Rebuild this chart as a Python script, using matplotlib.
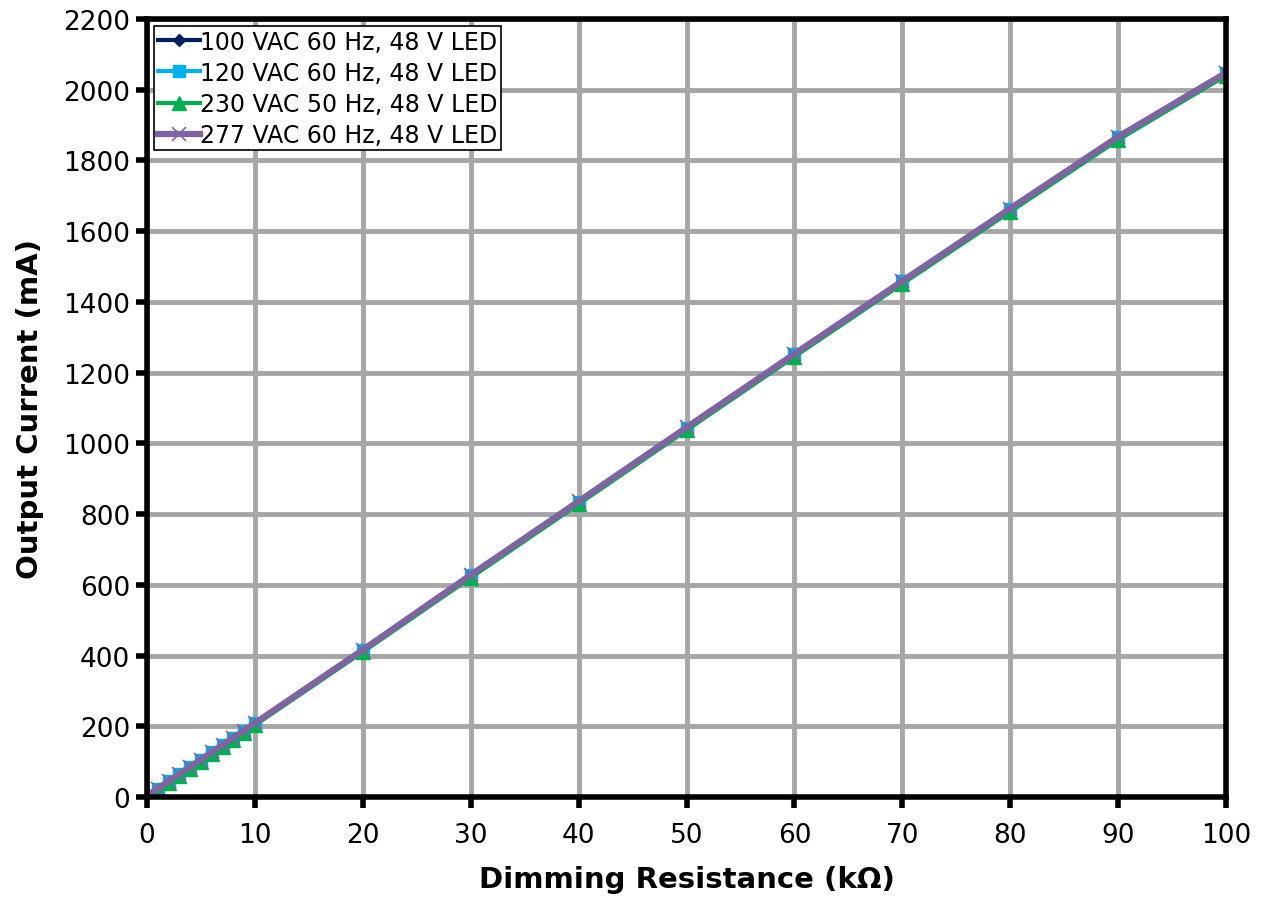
import matplotlib
matplotlib.use("Agg")
import matplotlib.pyplot as plt

# dimming resistance (kOhm) vs output current (mA)
r_kohm = [0, 1, 2, 3, 4, 5, 6, 7, 8, 9, 10, 20, 30, 40, 50, 60, 70, 80, 90, 100]
i_100vac = [2, 22, 43, 63, 84, 104, 125, 145, 166, 186, 207, 414, 626, 834, 1043, 1251, 1457, 1662, 1865, 2046]
i_120vac = [3, 23, 44, 64, 85, 105, 126, 146, 167, 187, 208, 415, 627, 835, 1044, 1252, 1458, 1663, 1866, 2047]
i_230vac = [0, 19, 40, 60, 80, 100, 121, 141, 162, 182, 203, 410, 620, 828, 1037, 1245, 1451, 1655, 1858, 2040]
i_277vac = [4, 24, 45, 65, 86, 106, 127, 147, 168, 188, 209, 416, 628, 836, 1045, 1253, 1459, 1664, 1867, 2048]

labels = ["100 VAC 60 Hz, 48 V LED", "120 VAC 60 Hz, 48 V LED",
          "230 VAC 50 Hz, 48 V LED", "277 VAC 60 Hz, 48 V LED"]

plt.rcParams['font.family'] = ['DejaVu Sans']

fig = plt.figure(figsize=(12.69, 9.03), dpi=100)
ax = fig.add_axes([147 / 1269, 1 - 798 / 903, (1226 - 147) / 1269, (798 - 20) / 903])

ax.plot(r_kohm, i_100vac, color='#002060', lw=3, marker='D', ms=6, label=labels[0])
ax.plot(r_kohm, i_120vac, color='#00B0F0', lw=3, marker='s', ms=8, label=labels[1])
ax.plot(r_kohm, i_230vac, color='#00B050', lw=3, marker='^', ms=10, label=labels[2])
ax.plot(r_kohm, i_277vac, color='#8064A2', lw=4.5, marker='x', ms=10, mew=1.2, label=labels[3])

ax.set_xlim(0, 100)
ax.set_ylim(0, 2200)
ax.set_xticks(range(0, 101, 10))
ax.set_yticks(range(0, 2201, 200))
ax.grid(True, color='#A6A6A6', lw=3.5)
ax.set_axisbelow(True)
for s in ax.spines.values():
    s.set_linewidth(4)
    s.set_color('black')
ax.tick_params(labelsize=19, length=8, width=4, direction='out')
ax.tick_params(axis='x', pad=10)
ax.tick_params(axis='y', pad=4)

ax.set_xlabel('Dimming Resistance (kΩ)', fontsize=21, fontweight='bold', labelpad=12)
ax.set_ylabel('Output Current (mA)', fontsize=21, fontweight='bold', labelpad=14)

leg = ax.legend(loc='upper left', fontsize=17, frameon=True, fancybox=False,
                borderpad=0.15, handlelength=1.8, handletextpad=0.0,
                labelspacing=0.3, borderaxespad=0.3)
leg.get_frame().set_edgecolor('black')
leg.get_frame().set_linewidth(1.2)
leg.get_frame().set_alpha(1)

fig.savefig('out.png', dpi=100)
